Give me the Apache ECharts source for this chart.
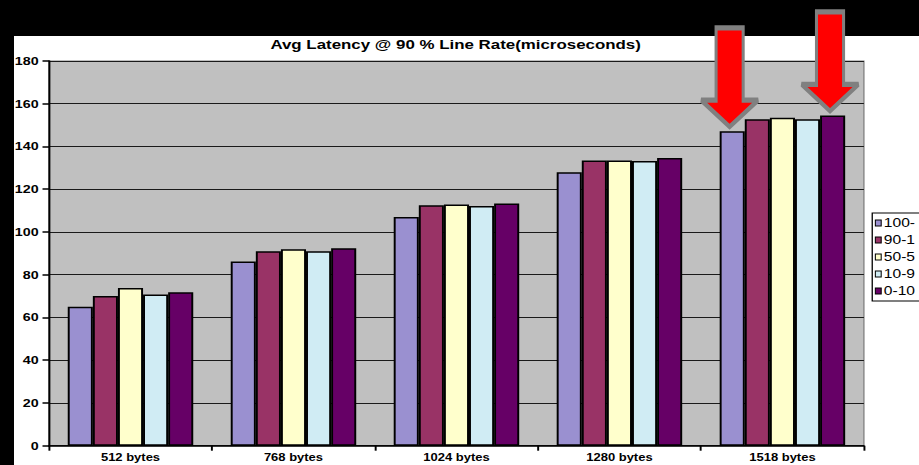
<!DOCTYPE html>
<html>
<head>
<meta charset="utf-8">
<script src="https://cdn.jsdelivr.net/npm/echarts@6/dist/echarts.min.js"></script>
<style>
  html, body { margin: 0; padding: 0; background: #000; width: 919px; height: 465px; overflow: hidden; }
  #panel { position: absolute; left: 14px; top: 36px; width: 905px; height: 429px; background: #fff; }
  /* chart is laid out narrow and widened horizontally */
  #chart { position: absolute; left: 0; top: 0; width: 707px; height: 465px; transform: scaleX(1.2999); transform-origin: 0 0; }
</style>
</head>
<body>
<div id="panel"></div>
<div id="chart"></div>
<script>
const categories = ['512 bytes', '768 bytes', '1024 bytes', '1280 bytes', '1518 bytes'];
const seriesNames = ['100-', '90-1', '50-5', '10-9', '0-10'];
const mix100_0 = [65, 86.2, 107, 127.9, 147.1];
const mix90_10 = [70.1, 91, 112.5, 133.5, 152.8];
const mix50_50 = [73.8, 91.9, 112.9, 133.5, 153.5];
const mix10_90 = [70.7, 91, 112.1, 133.2, 152.7];
const mix0_100 = [71.8, 92.4, 113.3, 134.6, 154.5];
const yTicks = { min: 0, max: 180, interval: 20 };

const colors = ['#9a90d0', '#993366', '#ffffcc', '#d0ecf4', '#660066'];
const values = [mix100_0, mix90_10, mix50_50, mix10_90, mix0_100];
const font = '"Liberation Sans", Arial, sans-serif';

// downward arrow pointing at a bar top
const arrowPath = 'path://M15,0 L42,0 L42,73 L57,73 L28.5,100 L0,73 L15,73 Z';
function arrowAt(idx, series) {
  return {
    symbol: arrowPath,
    symbolSize: [44, 99],
    symbolKeepAspect: false,
    symbolOffset: [-2, -54],
    label: { show: false },
    itemStyle: { color: '#ff0000', borderColor: '#808080', borderWidth: 3.5 },
    data: [{ coord: [categories[idx], series[idx]] }],
    silent: true
  };
}

const series = seriesNames.map((name, i) => {
  const s = {
    name: name,
    type: 'bar',
    data: values[i],
    barGap: '0%',
    barCategoryGap: '23%',
    itemStyle: { color: colors[i], borderColor: '#000', borderWidth: 1.5 },
    emphasis: { disabled: true }
  };
  if (i === 0) s.markPoint = arrowAt(4, values[i]);
  if (i === 4) s.markPoint = arrowAt(4, values[i]);
  return s;
});

const chart = echarts.init(document.getElementById('chart'), null, { renderer: 'svg' });
chart.setOption({
  animation: false,
  backgroundColor: 'transparent',
  title: {
    text: 'Avg Latency @ 90 % Line Rate(microseconds)',
    left: 208,
    top: 38,
    padding: 0,
    textStyle: { fontFamily: font, fontSize: 13, fontWeight: 'bold', color: '#000' }
  },
  legend: {
    orient: 'vertical',
    left: 671,
    top: 213,
    padding: [4, 20, 4, 2],
    itemGap: 5,
    itemWidth: 4.5,
    itemHeight: 6,
    icon: 'rect',
    itemStyle: { borderColor: '#000', borderWidth: 0.8 },
    backgroundColor: '#fff',
    borderColor: '#000',
    borderWidth: 1,
    selectedMode: false,
    textStyle: { fontFamily: font, fontSize: 12, color: '#000', padding: [0, 0, 0, -3] },
    data: seriesNames
  },
  grid: {
    left: 37.7,
    right: 42.4,
    top: 61,
    bottom: 19.3,
    show: true,
    backgroundColor: '#c0c0c0',
    borderColor: '#808080',
    borderWidth: 1
  },
  xAxis: {
    type: 'category',
    data: categories,
    axisLine: { lineStyle: { color: '#000', width: 1.5 } },
    axisTick: { show: true, alignWithLabel: false, length: 5, lineStyle: { color: '#000', width: 1.5 } },
    axisLabel: { fontFamily: font, fontSize: 10, fontWeight: 'bold', color: '#000', margin: 7 }
  },
  yAxis: {
    type: 'value',
    min: yTicks.min,
    max: yTicks.max,
    interval: yTicks.interval,
    axisLine: { show: true, lineStyle: { color: '#000', width: 1.5 } },
    axisTick: { show: true, length: 5, lineStyle: { color: '#000', width: 1.5 } },
    splitLine: { lineStyle: { color: '#1a1a1a', width: 1.2 } },
    axisLabel: { fontFamily: font, fontSize: 11, fontWeight: 'bold', color: '#000', margin: 8 }
  },
  series: series
});
</script>
</body>
</html>
